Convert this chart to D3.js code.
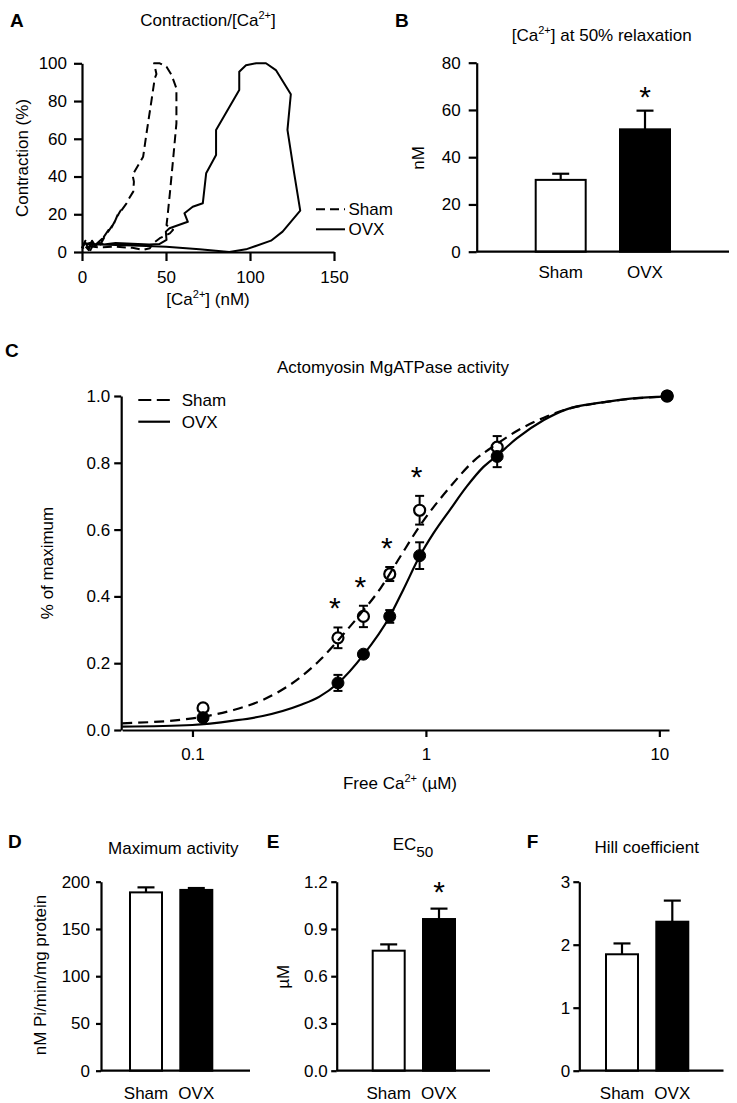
<!DOCTYPE html>
<html><head><meta charset="utf-8">
<script src="https://cdn.jsdelivr.net/npm/d3@7"></script>
<style>body{margin:0;background:#fff}</style>
</head><body>
<svg id="fig" width="737" height="1103"></svg>
<script>
// ================= DATA =================
// Panel A: contraction vs [Ca2+] loops (nM, % contraction)
const shamCa     = [0, 2, 4, 1, 6, 3, 8, 5, 10, 7, 12, 11, 14, 13, 16, 15, 18, 17, 20, 19, 21.6, 23, 21, 26.5, 27.5, 30.5, 30.9, 30.1, 36.4, 38.4, 41.4, 43.3, 44.3, 42.9, 46.3, 50.3, 53.3, 56.2, 56.2, 54.2, 52.3, 50.9, 50.3, 54.2, 52.3, 46.3, 42.3, 40.4, 36.4, 30, 20, 10, 4, 0];
const shamContr  = [2, 6, 1, 4, 5, 2, 6, 1, 5, 3, 7, 4, 9, 8, 12, 10, 14, 12, 17, 15, 20.5, 22, 19, 25.8, 27.6, 32, 37.3, 40.8, 50.5, 62.9, 80.5, 92, 94.3, 100, 100, 98.2, 93.8, 86.7, 68.2, 48.8, 31.1, 18.7, 14.3, 11.7, 9.9, 7.3, 4.6, 2.0, 1.1, 2.2, 2.8, 2.5, 3, 2];
const ovxCa      = [0, 2, 4, 6, 8, 10, 13, 20, 30, 40, 46, 50.3, 49.9, 52.1, 63, 61, 65.9, 71.9, 73.9, 79.8, 79.8, 93.6, 93.6, 97.6, 103.6, 109.5, 115.4, 124.3, 122.3, 126.3, 129.9, 119.4, 112.5, 97.6, 87.7, 69.9, 50.1, 30.3, 10.5, 0];
const ovxContr   = [2, 5, 1.5, 6, 3, 5, 4, 4.8, 4.4, 4, 4.2, 6.4, 10.8, 12.6, 16, 20.5, 24, 25.8, 41.7, 51.4, 64.7, 85.8, 95.5, 99, 100, 100, 96.4, 83.6, 64.7, 41.7, 21.9, 10.8, 6, 1.4, 0, 1.4, 2.8, 3.5, 4, 4.5];
const aXTicks = [0, 50, 100, 150];
const aYTicks = [0, 20, 40, 60, 80, 100];

// Groups used by bar panels
const groups = ["Sham", "OVX"];

// Panel B: [Ca2+] at 50% relaxation (nM)
const bMean = [30.4, 51.8];
const bSem  = [2.6, 7.9];
const bStar = [false, true];
const bYTicks = [0, 20, 40, 60, 80];

// Panel C: actomyosin MgATPase activity (fraction of maximum)
const cCa       = [0.111, 0.42, 0.54, 0.70, 0.94, 2.02, 10.8];
const cShamMean = [0.066, 0.276, 0.340, 0.467, 0.658, 0.847, 1.0];
const cShamSem  = [0.008, 0.031, 0.032, 0.021, 0.043, 0.033, 0];
const cOvxMean  = [0.037, 0.141, 0.227, 0.340, 0.522, 0.819, 1.0];
const cOvxSem   = [0.006, 0.024, 0.008, 0.019, 0.040, 0.032, 0];
const cStar     = [false, true, true, true, true, false, false];
// fitted curves, sampled from the figure
const cShamFitX = [0.05, 0.1, 0.15, 0.2, 0.29, 0.35, 0.46, 0.54, 0.64, 0.77, 0.95, 1.27, 1.6, 2.0, 2.45, 3.2, 4.0, 5.6, 7.7, 10.8];
const cShamFitY = [0.020, 0.035, 0.060, 0.090, 0.158, 0.208, 0.300, 0.358, 0.425, 0.515, 0.615, 0.728, 0.805, 0.855, 0.895, 0.935, 0.960, 0.980, 0.992, 0.998];
const cOvxFitX  = [0.05, 0.1, 0.15, 0.2, 0.29, 0.35, 0.42, 0.54, 0.70, 0.80, 0.94, 1.08, 1.27, 1.5, 1.76, 2.02, 2.45, 3.2, 4.0, 5.6, 7.7, 10.8];
const cOvxFitY  = [0.010, 0.015, 0.028, 0.042, 0.075, 0.100, 0.140, 0.225, 0.340, 0.420, 0.520, 0.590, 0.660, 0.730, 0.787, 0.822, 0.873, 0.928, 0.960, 0.980, 0.993, 0.998];
const cXTicks = [0.1, 1, 10];
const cYTicks = [0, 0.2, 0.4, 0.6, 0.8, 1.0];

// Panel D: maximum activity
const dMean = [188.7, 191.3];
const dSem  = [5.3, 2.0];
const dStar = [false, false];
const dYTicks = [0, 50, 100, 150, 200];
// Panel E: EC50 (µM)
const eMean = [0.762, 0.963];
const eSem  = [0.040, 0.066];
const eStar = [false, true];
const eYTicks = [0, 0.3, 0.6, 0.9, 1.2];
// Panel F: Hill coefficient
const fMean = [1.848, 2.365];
const fSem  = [0.172, 0.335];
const fStar = [false, false];
const fYTicks = [0, 1, 2, 3];

// ================= DRAWING =================
const FONT = "'Liberation Sans', Arial, Helvetica, sans-serif";
const FS = 17;
const svg = d3.select("#fig").attr("font-family", FONT);
svg.append("rect").attr("width", 737).attr("height", 1103).attr("fill", "#fff");

function styleAxis(g) {
  g.selectAll("path, line").attr("stroke", "#000").attr("stroke-width", 2.2);
  g.selectAll("text").attr("font-size", FS).attr("font-family", FONT).attr("fill", "#000");
}
function rich(parent, x, y, parts, anchor = "middle", fs = FS) {
  const t = parent.append("text").attr("x", x).attr("y", y)
    .attr("text-anchor", anchor).attr("font-size", fs).attr("fill", "#000");
  let pending = 0;
  parts.forEach(p => {
    if (typeof p === "string") {
      const s = t.append("tspan").text(p);
      if (pending) s.attr("dy", pending);
      pending = 0;
    } else if (p.sup) {
      t.append("tspan").attr("font-size", fs * 0.65).attr("dy", -fs * 0.42).text(p.sup);
      pending = fs * 0.42;
    } else if (p.sub) {
      t.append("tspan").attr("font-size", fs * 0.9).attr("dy", fs * 0.4).text(p.sub);
      pending = -fs * 0.4;
    }
  });
  return t;
}
function vLabel(x, y, text) {
  svg.append("text").attr("transform", `translate(${x},${y}) rotate(-90)`)
    .attr("text-anchor", "middle").attr("dy", "0.35em").attr("font-size", FS).text(text);
}
function letter(x, y, s) {
  svg.append("text").attr("x", x).attr("y", y).attr("font-size", 19).attr("font-weight", "bold").text(s);
}
function star(x, cy) {
  svg.append("text").attr("x", x).attr("y", cy + 17).attr("text-anchor", "middle")
    .attr("font-size", 30).text("*");
}

// ---------- Panel A ----------
{
  const xA = d3.scaleLinear().domain([0, 150]).range([82, 334]);
  const yA = d3.scaleLinear().domain([0, 100]).range([252, 63.3]);
  const line = d3.line().x(d => xA(d[0])).y(d => yA(d[1]));
  const sham = shamCa.map((c, i) => [c, shamContr[i]]);
  const ovx = ovxCa.map((c, i) => [c, ovxContr[i]]);
  svg.append("path").attr("d", line(ovx)).attr("fill", "none").attr("stroke", "#000")
    .attr("stroke-width", 2).attr("stroke-linejoin", "round");
  svg.append("path").attr("d", line(sham)).attr("fill", "none").attr("stroke", "#000")
    .attr("stroke-width", 2).attr("stroke-dasharray", "9,5").attr("stroke-linejoin", "round");
  const gx = svg.append("g").attr("transform", `translate(0,${yA(0)})`)
    .call(d3.axisBottom(xA).tickValues(aXTicks).tickSize(9).tickPadding(10).tickSizeOuter(0));
  styleAxis(gx);
  const gy = svg.append("g").attr("transform", `translate(${xA(0)},0)`)
    .call(d3.axisLeft(yA).tickValues(aYTicks).tickSize(8).tickPadding(7).tickSizeOuter(0));
  styleAxis(gy);
  letter(10, 27, "A");
  rich(svg, 208, 26, ["Contraction/[Ca", {sup: "2+"}, "]"]);
  rich(svg, 208, 305, ["[Ca", {sup: "2+"}, "] (nM)"]);
  vLabel(21.7, 158, "Contraction (%)");
  // legend
  const lg = [["Sham", "9,5", 209.3], ["OVX", null, 229.3]];
  lg.forEach(([name, dash, y]) => {
    const l = svg.append("line").attr("x1", 316).attr("x2", 345).attr("y1", y).attr("y2", y)
      .attr("stroke", "#000").attr("stroke-width", 2);
    if (dash) l.attr("stroke-dasharray", "9,5");
    svg.append("text").attr("x", 348.5).attr("y", y).attr("dy", "0.35em").attr("font-size", FS).text(name);
  });
}

// ---------- Bar panel helper ----------
function barPanel(o) {
  const y = d3.scaleLinear().domain([0, o.max]).range([o.yBottom, o.yTop]);
  const x = d3.scaleBand().domain(groups).range(o.bandRange).paddingInner(o.padIn);
  const bw = x.bandwidth();
  // error bars (upward)
  groups.forEach((g, i) => {
    const cx = x(g) + bw / 2;
    svg.append("line").attr("x1", cx).attr("x2", cx).attr("y1", y(o.mean[i])).attr("y2", y(o.mean[i] + o.sem[i]))
      .attr("stroke", "#000").attr("stroke-width", 2.2);
    svg.append("line").attr("x1", cx - 8.5).attr("x2", cx + 8.5).attr("y1", y(o.mean[i] + o.sem[i])).attr("y2", y(o.mean[i] + o.sem[i]))
      .attr("stroke", "#000").attr("stroke-width", 2.2);
    if (o.star[i]) star(cx, y(o.mean[i] + o.sem[i]) - o.starGap);
  });
  svg.selectAll(null).data(groups).join("rect")
    .attr("x", d => x(d)).attr("width", bw)
    .attr("y", (d, i) => y(o.mean[i])).attr("height", (d, i) => y(0) - y(o.mean[i]))
    .attr("fill", (d, i) => i === 0 ? "#fff" : "#000")
    .attr("stroke", "#000").attr("stroke-width", 2);
  // x baseline
  svg.append("line").attr("x1", o.axisX0).attr("x2", o.axisX1).attr("y1", y(0)).attr("y2", y(0))
    .attr("stroke", "#000").attr("stroke-width", 2.2);
  const gx = svg.append("g").attr("transform", `translate(0,${y(0)})`)
    .call(d3.axisBottom(x).tickSize(0).tickPadding(o.xPad));
  gx.select(".domain").remove();
  styleAxis(gx);
  const gy = svg.append("g").attr("transform", `translate(${o.axisX0},0)`)
    .call(d3.axisLeft(y).tickValues(o.ticks).tickFormat(o.fmt).tickSize(o.tickSize).tickPadding(o.tickPad).tickSizeOuter(0));
  styleAxis(gy);
}

// ---------- Panel B ----------
barPanel({max: 80, yBottom: 251.7, yTop: 62.7, bandRange: [535.7, 670], padIn: 0.407,
  mean: bMean, sem: bSem, star: bStar, starGap: 21, axisX0: 476.7, axisX1: 729,
  ticks: bYTicks, fmt: d3.format("d"), tickSize: 8, tickPad: 8, xPad: 14});
letter(395, 27, "B");
rich(svg, 601.7, 41, ["[Ca", {sup: "2+"}, "] at 50% relaxation"]);
vLabel(418.3, 158, "nM");

// ---------- Panel C ----------
{
  const xC = d3.scaleLog().domain([0.05, 11]).range([122.2, 669]);
  const yC = d3.scaleLinear().domain([0, 1]).range([730, 396]);
  // error bars
  const drawErr = (mean, sem) => cCa.forEach((c, i) => {
    if (sem[i] <= 0) return;
    const cx = xC(c), t = yC(mean[i] + sem[i]), b = yC(mean[i] - sem[i]);
    svg.append("line").attr("x1", cx).attr("x2", cx).attr("y1", t).attr("y2", b).attr("stroke", "#000").attr("stroke-width", 2);
    [t, b].forEach(yy => svg.append("line").attr("x1", cx - 4.5).attr("x2", cx + 4.5).attr("y1", yy).attr("y2", yy)
      .attr("stroke", "#000").attr("stroke-width", 2));
  });
  drawErr(cShamMean, cShamSem);
  drawErr(cOvxMean, cOvxSem);
  // points
  svg.selectAll(null).data(cCa).join("circle")
    .attr("cx", d => xC(d)).attr("cy", (d, i) => yC(cShamMean[i])).attr("r", 5.5)
    .attr("fill", "#fff").attr("stroke", "#000").attr("stroke-width", 2.2);
  svg.selectAll(null).data(cCa).join("circle")
    .attr("cx", d => xC(d)).attr("cy", (d, i) => yC(cOvxMean[i])).attr("r", 6)
    .attr("fill", "#000").attr("stroke", "#000").attr("stroke-width", 1);
  // fitted curves
  const line = d3.line().x(d => xC(d[0])).y(d => yC(d[1])).curve(d3.curveMonotoneX);
  svg.append("path").attr("d", line(cOvxFitX.map((x, i) => [x, cOvxFitY[i]])))
    .attr("fill", "none").attr("stroke", "#000").attr("stroke-width", 2.2);
  svg.append("path").attr("d", line(cShamFitX.map((x, i) => [x, cShamFitY[i]])))
    .attr("fill", "none").attr("stroke", "#000").attr("stroke-width", 2.2).attr("stroke-dasharray", "10,6");
  // stars
  cCa.forEach((c, i) => { if (cStar[i]) star(xC(c) - 3, yC(cShamMean[i] + cShamSem[i]) - 26); });
  // axes
  const gx = svg.append("g").attr("transform", `translate(0,${yC(0)})`)
    .call(d3.axisBottom(xC).tickValues(cXTicks).tickFormat(d3.format("~g")).tickSize(7).tickPadding(11).tickSizeOuter(0));
  styleAxis(gx);
  const gy = svg.append("g").attr("transform", `translate(${xC.range()[0] - 1},0)`)
    .call(d3.axisLeft(yC).tickValues(cYTicks).tickFormat(d3.format(".1f")).tickSize(7).tickPadding(4).tickSizeOuter(0));
  styleAxis(gy);
  letter(5, 357, "C");
  svg.append("text").attr("x", 393).attr("y", 373).attr("text-anchor", "middle").attr("font-size", FS)
    .text("Actomyosin MgATPase activity");
  rich(svg, 400, 789, ["Free Ca", {sup: "2+"}, " (\u00B5M)"]);
  vLabel(46.7, 563, "% of maximum");
  // legend
  [["Sham", true, 400], ["OVX", false, 421.7]].forEach(([name, dash, y]) => {
    const l = svg.append("line").attr("x1", 138.3).attr("x2", 170).attr("y1", y).attr("y2", y)
      .attr("stroke", "#000").attr("stroke-width", 2.2);
    if (dash) l.attr("stroke-dasharray", "13,5.5");
    svg.append("text").attr("x", 181.7).attr("y", y).attr("dy", "0.35em").attr("font-size", FS).text(name);
  });
}

// ---------- Panels D, E, F ----------
barPanel({max: 200, yBottom: 1070.7, yTop: 881.7, bandRange: [130, 212.3], padIn: 0.364,
  mean: dMean, sem: dSem, star: dStar, starGap: 22, axisX0: 101, axisX1: 250,
  ticks: dYTicks, fmt: d3.format("d"), tickSize: 5, tickPad: 6, xPad: 16});
letter(8, 848, "D");
svg.append("text").attr("x", 173.3).attr("y", 854).attr("text-anchor", "middle").attr("font-size", FS).text("Maximum activity");
vLabel(40, 975, "nM Pi/min/mg protein");

barPanel({max: 1.2, yBottom: 1070.7, yTop: 881.7, bandRange: [372.7, 455], padIn: 0.364,
  mean: eMean, sem: eSem, star: eStar, starGap: 24, axisX0: 336.7, axisX1: 490,
  ticks: eYTicks, fmt: d3.format(".1f"), tickSize: 5.5, tickPad: 3.5, xPad: 16});
letter(266.7, 848, "E");
rich(svg, 413, 850, ["EC", {sub: "50"}]);
vLabel(283, 976.7, "\u00B5M");

barPanel({max: 3, yBottom: 1070.7, yTop: 881.7, bandRange: [606, 688.3], padIn: 0.364,
  mean: fMean, sem: fSem, star: fStar, starGap: 22, axisX0: 579.3, axisX1: 723.5,
  ticks: fYTicks, fmt: d3.format("d"), tickSize: 6, tickPad: 3, xPad: 16});
letter(526.7, 848, "F");
svg.append("text").attr("x", 646.7).attr("y", 853).attr("text-anchor", "middle").attr("font-size", FS).text("Hill coefficient");
</script>
</body></html>
